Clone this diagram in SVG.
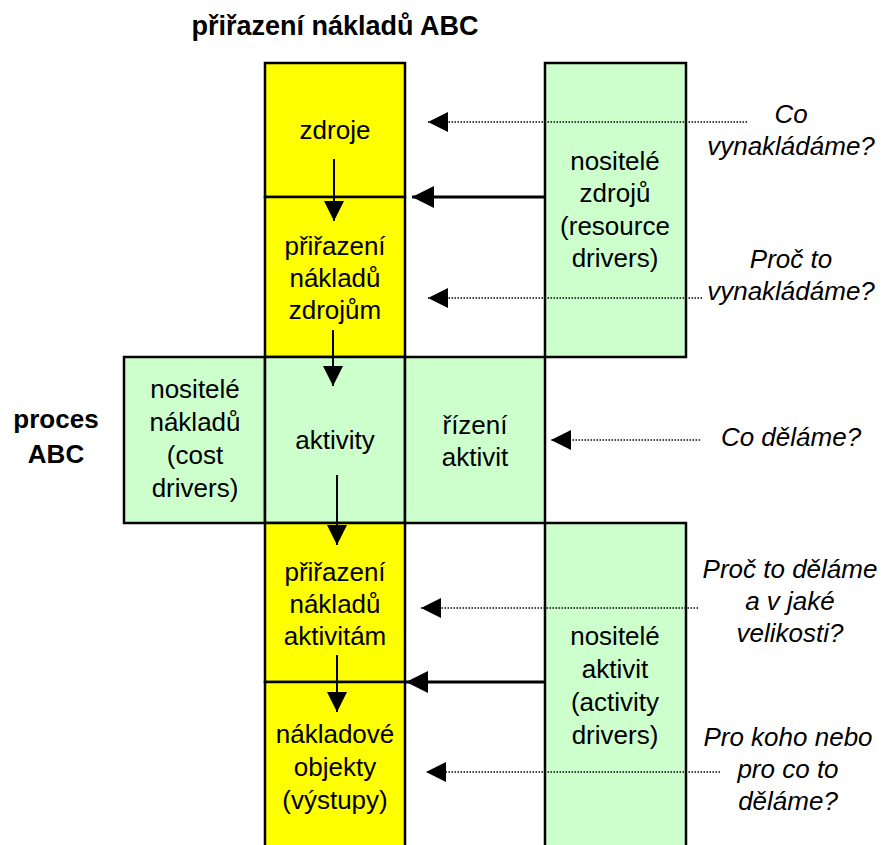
<svg xmlns="http://www.w3.org/2000/svg" width="885" height="845" viewBox="0 0 885 845">
<defs>
<style>
.box{stroke:#000;stroke-width:2.5}
.y{fill:#FFFF00}
.g{fill:#CCFFCC}
text{font-family:"Liberation Sans",Arial,sans-serif;font-size:26px;fill:#000;text-anchor:middle}
.b{font-weight:bold}
.t{font-size:27px}
.i{font-style:italic}
.solid{stroke:#000;stroke-width:3;fill:none}
.dot{stroke:#000;stroke-width:1.6;stroke-dasharray:1.5 1.5;fill:none}
.v{stroke:#000;stroke-width:2;fill:none}
</style>
<marker id="ah" viewBox="0 0 20 20" refX="20" refY="10" markerWidth="20" markerHeight="20" markerUnits="userSpaceOnUse" orient="auto">
<path d="M0,0 L20,10 L0,20 Z" fill="#000"/>
</marker>
<marker id="ahs" viewBox="0 0 22 22" refX="22" refY="11" markerWidth="22" markerHeight="22" markerUnits="userSpaceOnUse" orient="auto">
<path d="M0,0 L22,11 L0,22 Z" fill="#000"/>
</marker>
</defs>
<rect width="885" height="845" fill="#fff"/>

<text class="b t" x="335" y="35">přiřazení nákladů ABC</text>
<text class="b"><tspan x="56" y="428">proces</tspan><tspan x="56" y="463">ABC</tspan></text>

<g id="zdroje">
<rect class="box y" x="265" y="63" width="140" height="134"/>
<text x="335" y="139">zdroje</text>
</g>
<g id="prirazeni-zdrojum">
<rect class="box y" x="265" y="197" width="140" height="160"/>
<text><tspan x="335" y="255">přiřazení</tspan><tspan x="335" y="287">nákladů</tspan><tspan x="335" y="319">zdrojům</tspan></text>
</g>
<g id="nositele-zdroju">
<rect class="box g" x="545" y="63" width="141" height="294"/>
<text><tspan x="615" y="170">nositelé</tspan><tspan x="615" y="202">zdrojů</tspan><tspan x="615" y="235">(resource</tspan><tspan x="615" y="267">drivers)</tspan></text>
</g>
<g id="nositele-nakladu">
<rect class="box g" x="124" y="357" width="141" height="166"/>
<text><tspan x="195" y="398">nositelé</tspan><tspan x="195" y="431">nákladů</tspan><tspan x="195" y="464">(cost</tspan><tspan x="195" y="497">drivers)</tspan></text>
</g>
<g id="aktivity">
<rect class="box g" x="265" y="357" width="140" height="166"/>
<text x="335" y="449">aktivity</text>
</g>
<g id="rizeni-aktivit">
<rect class="box g" x="405" y="357" width="140" height="166"/>
<text><tspan x="475" y="434">řízení</tspan><tspan x="475" y="466">aktivit</tspan></text>
</g>
<g id="prirazeni-aktivitam">
<rect class="box y" x="265" y="523" width="140" height="159"/>
<text><tspan x="335" y="581">přiřazení</tspan><tspan x="335" y="613">nákladů</tspan><tspan x="335" y="645">aktivitám</tspan></text>
</g>
<g id="nakladove-objekty">
<rect class="box y" x="265" y="682" width="140" height="175"/>
<text><tspan x="335" y="743">nákladové</tspan><tspan x="335" y="776">objekty</tspan><tspan x="335" y="809">(výstupy)</tspan></text>
</g>
<g id="nositele-aktivit">
<rect class="box g" x="545" y="523" width="141" height="334"/>
<text><tspan x="615" y="645">nositelé</tspan><tspan x="615" y="678">aktivit</tspan><tspan x="615" y="711">(activity</tspan><tspan x="615" y="744">drivers)</tspan></text>
</g>

<g id="questions">
<text class="i"><tspan x="791" y="123">Co</tspan><tspan x="791" y="155">vynakládáme?</tspan></text>
<text class="i"><tspan x="791" y="268">Proč to</tspan><tspan x="791" y="300">vynakládáme?</tspan></text>
<text class="i" x="791" y="446">Co děláme?</text>
<text class="i"><tspan x="790" y="578">Proč to děláme</tspan><tspan x="790" y="610">a v jaké</tspan><tspan x="790" y="642">velikosti?</tspan></text>
<text class="i"><tspan x="788" y="746">Pro koho nebo</tspan><tspan x="788" y="778">pro co to</tspan><tspan x="788" y="810">děláme?</tspan></text>
</g>

<g id="connectors">
<line class="v" x1="334" y1="159" x2="334" y2="221" marker-end="url(#ah)"/>
<line class="v" x1="333" y1="330" x2="333" y2="386" marker-end="url(#ah)"/>
<line class="v" x1="337" y1="475" x2="337" y2="545" marker-end="url(#ah)"/>
<line class="v" x1="337" y1="655" x2="337" y2="712" marker-end="url(#ah)"/>

<line class="solid" x1="546" y1="197" x2="412" y2="197" marker-end="url(#ahs)"/>
<line class="solid" x1="546" y1="682" x2="406" y2="682" marker-end="url(#ahs)"/>

<line class="dot" x1="747" y1="122" x2="428" y2="122" marker-end="url(#ah)"/>
<line class="dot" x1="702" y1="298" x2="428" y2="298" marker-end="url(#ah)"/>
<line class="dot" x1="700" y1="440" x2="551" y2="440" marker-end="url(#ah)"/>
<line class="dot" x1="698" y1="608" x2="421" y2="608" marker-end="url(#ah)"/>
<line class="dot" x1="720" y1="772" x2="426" y2="772" marker-end="url(#ah)"/>
</g>
</svg>
